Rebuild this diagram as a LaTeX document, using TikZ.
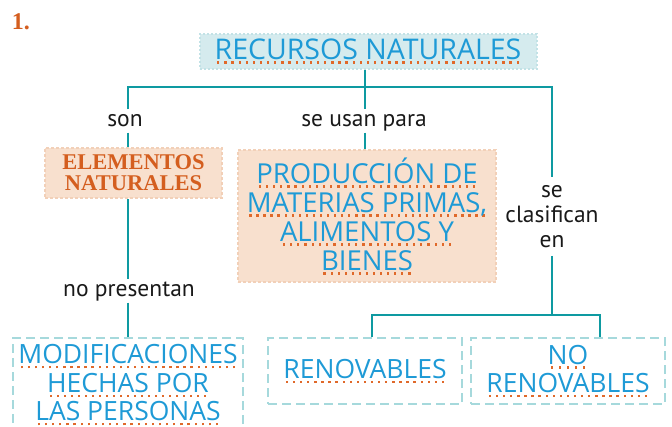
\documentclass[tikz,border=0pt]{standalone}
\usepackage{fontspec}
\newfontfamily\handfont{Open Sans}
\newfontfamily\labfont{PT Sans}
\newfontfamily\serfont{Liberation Serif}
\definecolor{teal1}{HTML}{0E9AA1}
\definecolor{tblue}{HTML}{1E9AD6}
\definecolor{dotor}{HTML}{E0692A}
\definecolor{orng}{HTML}{D45E1F}
\definecolor{peach}{HTML}{F8E0CE}
\definecolor{peachb}{HTML}{F2D0B8}
\definecolor{lblue}{HTML}{D5EBEE}
\definecolor{lblueb}{HTML}{C2E2E6}
\definecolor{dashb}{HTML}{A6D9DC}
\newsavebox\dulbox
\newcommand\dotul[1]{\leavevmode\sbox\dulbox{#1}\rlap{\lower4.5pt\hbox to\wd\dulbox{\xleaders\hbox to 7pt{\hss\textcolor{dotor}{\rule{2.3pt}{2.3pt}}\hss}\hfill}}\usebox\dulbox}
\tikzset{
  conn/.style={draw=teal1, line width=2.6pt},
  handtext/.style={text=tblue, font=\handfont\fontsize{26.5}{28.5}\selectfont, align=center},
  labbase/.style={text=black!90, font=\labfont\fontsize{23.5}{25}\selectfont, align=center},
  lab/.style={labbase, text height=15pt, text depth=5pt, inner sep=1.5pt},
  topbox/.style={handtext, fill=lblue, draw=lblueb, line width=2pt, dash pattern=on 2pt off 2pt, inner sep=0pt},
  pbox/.style={fill=peach, draw=peachb, line width=2pt, dash pattern=on 3pt off 2pt, inner sep=0pt},
  dbox/.style={handtext, draw=dashb, line width=2pt, dash pattern=on 9pt off 5pt, inner sep=0pt}
}
\begin{document}
\begin{tikzpicture}[x=1pt,y=-1pt]
\useasboundingbox (0,0) rectangle (672,426);
\node[text=orng, font=\serfont\bfseries\fontsize{24}{26}\selectfont] (n1) at (21,22) {1.};
\node[topbox, minimum width=337pt, minimum height=35pt, font=\handfont\fontsize{28.5}{29}\selectfont] (rec) at (368,51) {\dotul{RECURSOS NATURALES}};
\node[pbox, minimum width=177pt, minimum height=50pt, align=center, text=orng, font=\serfont\bfseries\fontsize{22.5}{21}\selectfont] (elem) at (133.5,173) {ELEMENTOS\\NATURALES};
\node[pbox, handtext, minimum width=258pt, minimum height=132pt, font=\handfont\fontsize{27.5}{29}\selectfont] (prod) at (367,216) {\dotul{PRODUCCIÓN DE}\\\dotul{MATERIAS PRIMAS,}\\\dotul{ALIMENTOS Y}\\\dotul{BIENES}};
\node[dbox, minimum width=230pt, minimum height=94pt] (modif) at (128,385) {\dotul{MODIFICACIONES}\\\dotul{HECHAS POR}\\\dotul{LAS PERSONAS}};
\node[dbox, minimum width=194pt, minimum height=66pt] (ren) at (365,371) {\dotul{RENOVABLES}};
\node[dbox, minimum width=194pt, minimum height=66pt] (noren) at (568,371) {\dotul{NO}\\\dotul{RENOVABLES}};
\node[lab] (son) at (125,121) {son};
\node[lab] (usan) at (364,121) {se usan para};
\node[labbase, inner xsep=2pt, inner ysep=8pt] (clas) at (552,216.5) {se\\clasifican\\en};
\node[lab] (nopres) at (129,291) {no presentan};
\coordinate (hL) at (128,87);
\coordinate (hM) at (365,87);
\coordinate (hR) at (552,87);
\coordinate (bL) at (372,315);
\coordinate (bM) at (552,315);
\coordinate (bR) at (600,315);
\draw[conn] (hM |- rec.south) -- (hM);
\draw[conn] (hL |- son.north) -- (hL) -- (hR) -- (hR |- clas.north);
\draw[conn] (hL |- son.south) -- (hL |- elem.north);
\draw[conn] (hM) -- (hM |- usan.north);
\draw[conn] (hM |- usan.south) -- (hM |- prod.north);
\draw[conn] (hR |- clas.south) -- (bM);
\draw[conn] (bL |- ren.north) -- (bL) -- (bR) -- (bR |- noren.north);
\draw[conn] (hL |- elem.south) -- (hL |- nopres.north);
\draw[conn] (hL |- nopres.south) -- (hL |- modif.north);
\end{tikzpicture}
\end{document}
